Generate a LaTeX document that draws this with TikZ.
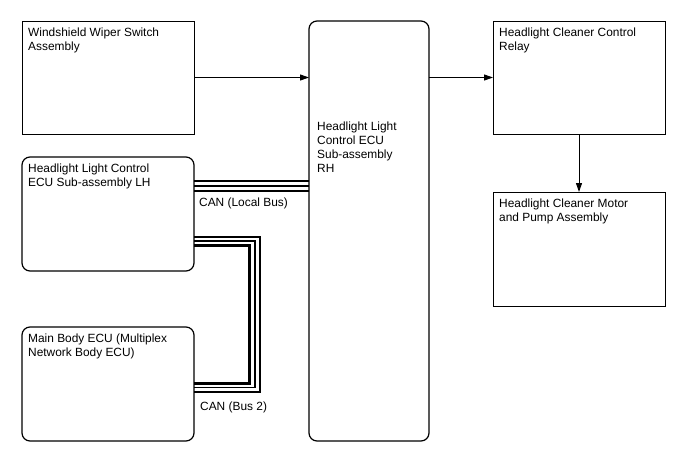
\documentclass[tikz,border=0pt]{standalone}
\usepackage{fontspec}
\setmainfont{Liberation Sans}
\usetikzlibrary{arrows.meta}
\begin{document}
\begin{tikzpicture}[x=1pt,y=-1pt,
  box/.style={draw,line width=1pt,anchor=north west,inner sep=0pt,outer sep=0pt},
  rbox/.style={box,line width=1.2pt,rounded corners=8pt},
  txt/.style={anchor=north west,inner sep=0pt,align=left,font=\fontsize{11.9}{14}\selectfont},
  arr/.style={line width=1pt,-{Triangle[length=9pt,width=6pt]}},
  bus/.style={line width=2pt}]
\fill[white] (0,0) rectangle (688,463);
\useasboundingbox (0,0) rectangle (688,463);
% boxes
\node[box,minimum width=172pt,minimum height=113pt] (wiper) at (22,21) {};
\node[rbox,minimum width=120pt,minimum height=420pt] (ecu) at (309,21) {};
\node[box,minimum width=172pt,minimum height=113pt] (relay) at (493,21) {};
\node[box,minimum width=172pt,minimum height=114pt] (motor) at (493,192) {};
\node[rbox,minimum width=172pt,minimum height=114pt] (lh) at (22,157) {};
\node[rbox,minimum width=172pt,minimum height=114pt] (body) at (22,327) {};
% texts
\node[txt] (twiper) at (28,28) {Windshield Wiper Switch\\Assembly};
\node[txt] (tecu) at (317,122) {Headlight Light\\Control ECU\\Sub-assembly\\RH};
\node[txt] (trelay) at (499,28) {Headlight Cleaner Control\\Relay};
\node[txt] (tmotor) at (499,199) {Headlight Cleaner Motor\\and Pump Assembly};
\node[txt] (tlh) at (28,164) {Headlight Light Control\\ECU Sub-assembly LH};
\node[txt] (tbody) at (28,334) {Main Body ECU (Multiplex\\Network Body ECU)};
\node[txt] (tcan1) at (199,198) {CAN (Local Bus)};
\node[txt] (tcan2) at (200,402) {CAN (Bus 2)};
% arrows
\draw[arr] (wiper.east) -- (wiper.east -| ecu.west);
\draw[arr] (relay.west -| ecu.east) -- (relay.west);
\draw[arr] (relay.south) -- (motor.north);
% local bus
\coordinate (l1) at (0,181);
\coordinate (l2) at (0,186);
\coordinate (l3) at (0,191);
\draw[bus] (lh.east |- l1) -- (ecu.west |- l1);
\draw[bus] (lh.east |- l2) -- (ecu.west |- l2);
\draw[bus] (lh.east |- l3) -- (ecu.west |- l3);
% bus 2
\coordinate (o1) at (259.5,237);
\coordinate (o2) at (259.5,391.5);
\coordinate (m1) at (255,241);
\coordinate (m2) at (255,387.5);
\coordinate (i1) at (249.5,245.5);
\coordinate (i2) at (249.5,383);
\draw[bus] (lh.east |- o1) -- (o1) -- (o2) -- (body.east |- o2);
\draw[line width=1.5pt] (lh.east |- m1) -- (m1) -- (m2) -- (body.east |- m2);
\draw[line width=3pt] (lh.east |- i1) -- (i1) -- (i2) -- (body.east |- i2);
\end{tikzpicture}
\end{document}
